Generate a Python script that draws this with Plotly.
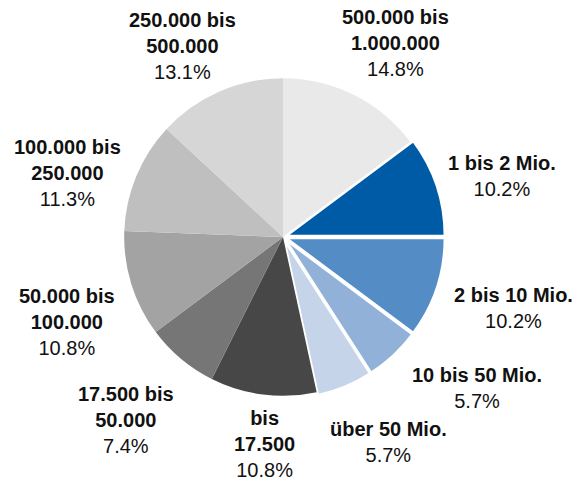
import plotly.graph_objects as go

# data
categories = ["500.000 bis<br>1.000.000", "1 bis 2 Mio.", "2 bis 10 Mio.", "10 bis 50 Mio.",
              "über 50 Mio.", "bis<br>17.500", "17.500 bis<br>50.000", "50.000 bis<br>100.000",
              "100.000 bis<br>250.000", "250.000 bis<br>500.000"]
shares = [14.8, 10.2, 10.2, 5.7, 5.7, 10.8, 7.4, 10.8, 11.3, 13.1]

colors = ["#e9e9e9", "#005ba6", "#548dc6", "#92b1d9", "#c6d4ea",
          "#474747", "#767676", "#a3a3a3", "#bfbfbf", "#d6d6d6"]
pulls = [0, 0.02, 0.02, 0.02, 0.02, 0, 0, 0, 0, 0]
borders = [0, 2.5, 2.5, 2.5, 2.5, 0, 0, 0, 0, 0]

# label centres in pixels (x, y from top)
label_pos = [(395, 43), (502, 176), (513, 308), (477, 388), (388, 442),
             (264, 444), (126, 420), (67, 322), (67, 173), (182, 46)]

W, H = 576, 481

fig = go.Figure(go.Pie(
    labels=categories,
    values=shares,
    sort=False,
    direction="clockwise",
    rotation=0,
    pull=pulls,
    marker=dict(colors=colors, line=dict(color="white", width=borders)),
    textinfo="none",
    hoverinfo="label+percent",
    showlegend=False,
    domain=dict(x=[121 / W, 445 / W], y=[82 / H, 406 / H]),
))

for cat, val, (px_, py_) in zip(categories, shares, label_pos):
    fig.add_annotation(
        x=px_ / W, y=1 - py_ / H, xref="paper", yref="paper",
        text=f"<b>{cat}</b><br>{val:.1f}%",
        showarrow=False, xanchor="center", yanchor="middle", align="center",
        font=dict(family="Liberation Sans, Arial, sans-serif", size=20, color="#111111"),
    )

fig.update_layout(
    width=W, height=H,
    margin=dict(l=0, r=0, t=0, b=0),
    paper_bgcolor="white",
    plot_bgcolor="white",
)

# drop the default page margin so the figure fills the window
fig.write_html("out.html", config={"displayModeBar": False},
               post_script="document.body.style.margin='0';")
